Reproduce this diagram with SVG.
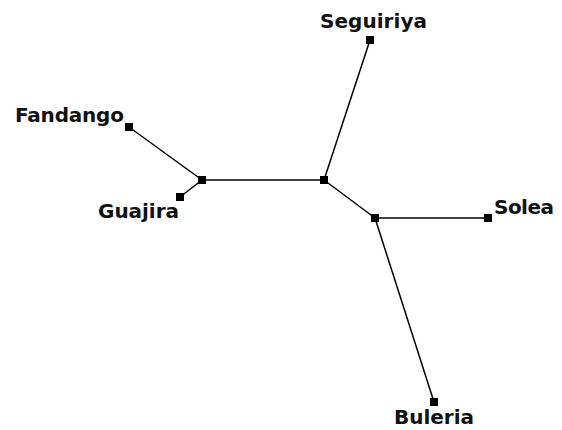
<svg xmlns="http://www.w3.org/2000/svg" width="562" height="430" viewBox="0 0 562 430">
<style>
.n{fill:#000}
.e{stroke:#000;stroke-width:1.5;fill:none}
text{font-family:"DejaVu Sans",sans-serif;font-weight:bold;font-size:20px;fill:#111}
</style>
<rect width="562" height="430" fill="#fff"/>
<g id="connectors">
<line class="e" x1="129" y1="127" x2="202" y2="180"/>
<line class="e" x1="180" y1="197" x2="202" y2="180"/>
<line class="e" x1="202" y1="180" x2="324" y2="180"/>
<line class="e" x1="324" y1="180" x2="370" y2="40"/>
<line class="e" x1="324" y1="180" x2="375" y2="218"/>
<line class="e" x1="375" y1="218" x2="488" y2="218"/>
<line class="e" x1="375" y1="218" x2="434" y2="402"/>
</g>
<g id="n-fandango"><rect class="n" x="125" y="123" width="8" height="8"/><text x="15" y="122" textLength="109">Fandango</text></g>
<g id="n-guajira"><rect class="n" x="176" y="193" width="8" height="8"/><text x="98" y="218" textLength="81">Guajira</text></g>
<g id="n-seguiriya"><rect class="n" x="366" y="36" width="8" height="8"/><text x="320" y="28" textLength="107">Seguiriya</text></g>
<g id="n-solea"><rect class="n" x="484" y="214" width="8" height="8"/><text x="494" y="214" textLength="60">Solea</text></g>
<g id="n-buleria"><rect class="n" x="430" y="398" width="8" height="8"/><text x="394" y="424" textLength="80">Buleria</text></g>
<g id="n-i1"><rect class="n" x="198" y="176" width="8" height="8"/></g>
<g id="n-i2"><rect class="n" x="320" y="176" width="8" height="8"/></g>
<g id="n-i3"><rect class="n" x="371" y="214" width="8" height="8"/></g>
</svg>
